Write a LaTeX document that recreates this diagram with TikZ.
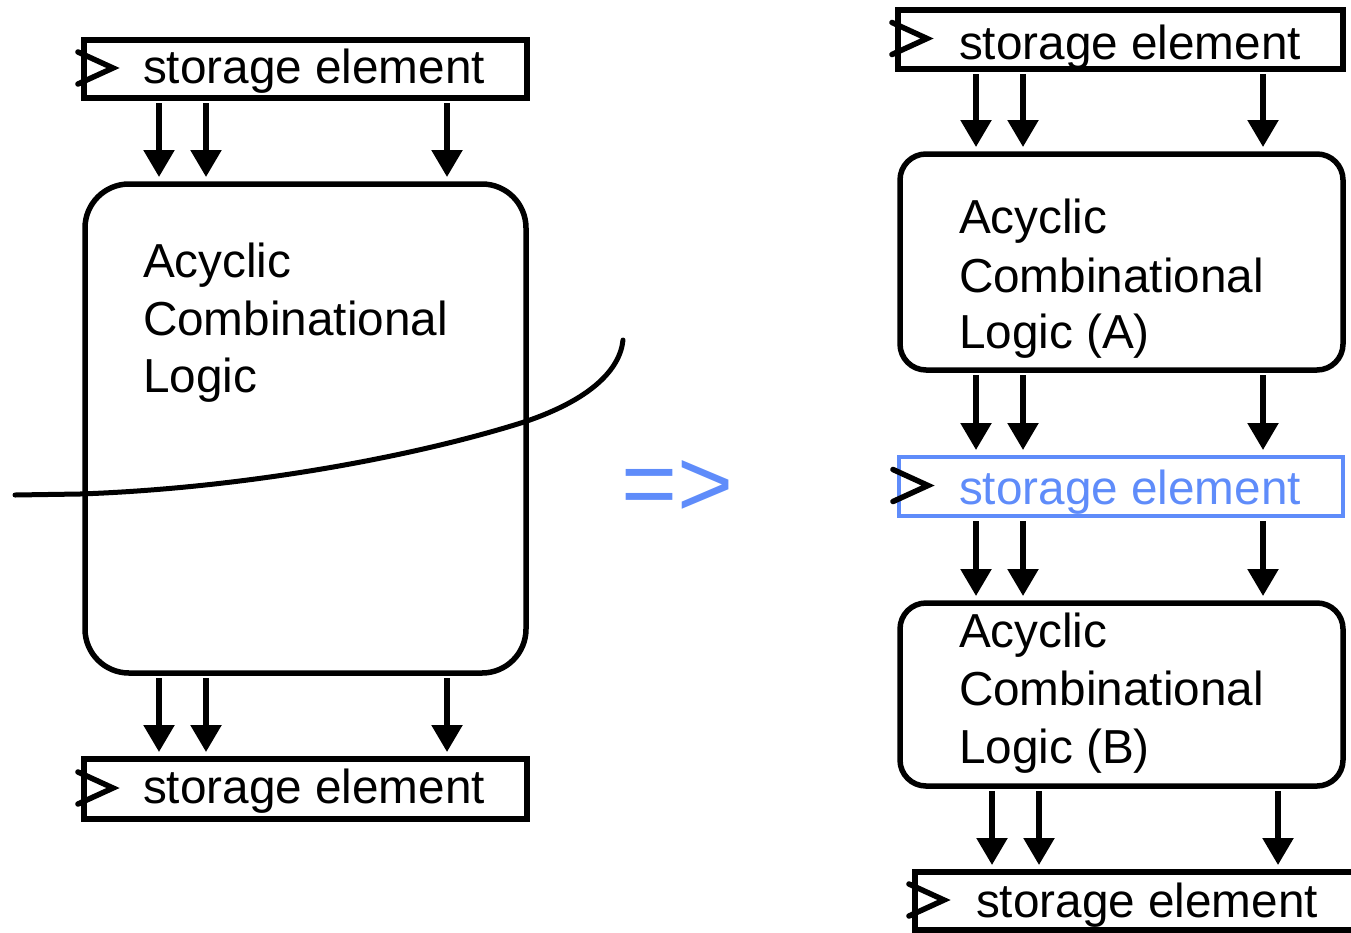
\documentclass[tikz,border=0pt]{standalone}
\usepackage{fontspec}
\setmainfont{Liberation Sans}
\usetikzlibrary{arrows.meta}
\definecolor{regblue}{RGB}{95,140,250}
\tikzset{
  every node/.style={inner sep=0pt, outer sep=0pt},
  store/.style={draw, line width=5.5pt},
  logic/.style={draw, line width=5.5pt},
  lbl/.style={anchor=base west, font=\fontsize{47.7}{56}\selectfont},
  flow/.style={line width=5.5pt, -{Triangle[length=27pt,width=30pt]},
    shorten <=5pt, shorten >=7pt},
  clk/.style={line width=5.5pt, line cap=round, line join=miter},
  cut/.style={line width=5pt, line cap=round},
}
% clock input mark on the left side of a storage element
\newcommand\clockmark[1]{%
  \draw[clk] ([shift={(-6,-17)}]#1.west) -- ([shift={(29,-1)}]#1.west)
    -- ([shift={(-6,15)}]#1.west);}
\begin{document}
\begin{tikzpicture}[x=1pt, y=-1pt]
\clip (0,0) rectangle (1351,932);

% ---------------- single stage ----------------
\node[store, minimum width=443pt, minimum height=58pt] (L1) at (305.5,69) {};
\node[logic, rounded corners=44pt, minimum width=441pt, minimum height=489pt] (big) at (305.5,428.5) {};
\node[store, minimum width=443pt, minimum height=60pt] (L2) at (305.5,789) {};
\clockmark{L1}
\clockmark{L2}
\node[lbl] (L1t) at (143,83) {storage element};
\node[lbl] (L2t) at (143,803) {storage element};
\node[lbl] (bg1) at (143,277) {Acyclic};
\node[lbl] (bg2) at (143,335) {Combinational};
\node[lbl] (bg3) at (143,392) {Logic};

\coordinate (a1) at (159,0);
\coordinate (a2) at (206,0);
\coordinate (a3) at (447,0);
\foreach \c in {a1,a2,a3} {
  \draw[flow] (L1.south -| \c) -- (big.north -| \c);
  \draw[flow] (big.south -| \c) -- (L2.north -| \c);
}

% cut line through the logic block
\draw[cut] (15,495) -- (80,494)
  .. controls (250,488) and (420,455) .. (524,422)
  .. controls (590,400) and (620,370) .. (623,340);

\node[anchor=base west, font=\fontsize{96}{110}\selectfont, text=regblue] (to) at (621,516) {=>};

% ---------------- pipelined version ----------------
\node[store, minimum width=445pt, minimum height=59pt] (R1) at (1120.5,39.5) {};
\node[logic, rounded corners=26pt, minimum width=443pt, minimum height=216pt] (A) at (1121.5,262) {};
\node[store, draw=regblue, line width=4.5pt, minimum width=444pt, minimum height=59pt] (R2) at (1121,486.5) {};
\node[logic, rounded corners=26pt, minimum width=443pt, minimum height=183pt] (B) at (1121.5,694.5) {};
\node[store, minimum width=455pt, minimum height=58pt] (R3) at (1142.5,901) {};
\clockmark{R1}
\clockmark{R2}
\clockmark{R3}
\node[lbl] (R1t) at (959,59) {storage element};
\node[lbl, text=regblue] (R2t) at (959,504) {storage element};
\node[lbl] (R3t) at (976,917) {storage element};
\node[lbl] (A1) at (959,233) {Acyclic};
\node[lbl] (A2) at (959,292) {Combinational};
\node[lbl] (A3) at (959,348) {Logic (A)};
\node[lbl] (B1) at (959,647) {Acyclic};
\node[lbl] (B2) at (959,705) {Combinational};
\node[lbl] (B3) at (959,763) {Logic (B)};

\coordinate (b1) at (976,0);
\coordinate (b2) at (1023,0);
\coordinate (b3) at (1263,0);
\coordinate (c1) at (992,0);
\coordinate (c2) at (1039,0);
\coordinate (c3) at (1278,0);
\foreach \c in {b1,b2,b3} {
  \draw[flow] (R1.south -| \c) -- (A.north -| \c);
  \draw[flow] (A.south -| \c) -- (R2.north -| \c);
  \draw[flow] (R2.south -| \c) -- (B.north -| \c);
}
\foreach \c in {c1,c2,c3} {
  \draw[flow] (B.south -| \c) -- (R3.north -| \c);
}
\end{tikzpicture}
\end{document}
